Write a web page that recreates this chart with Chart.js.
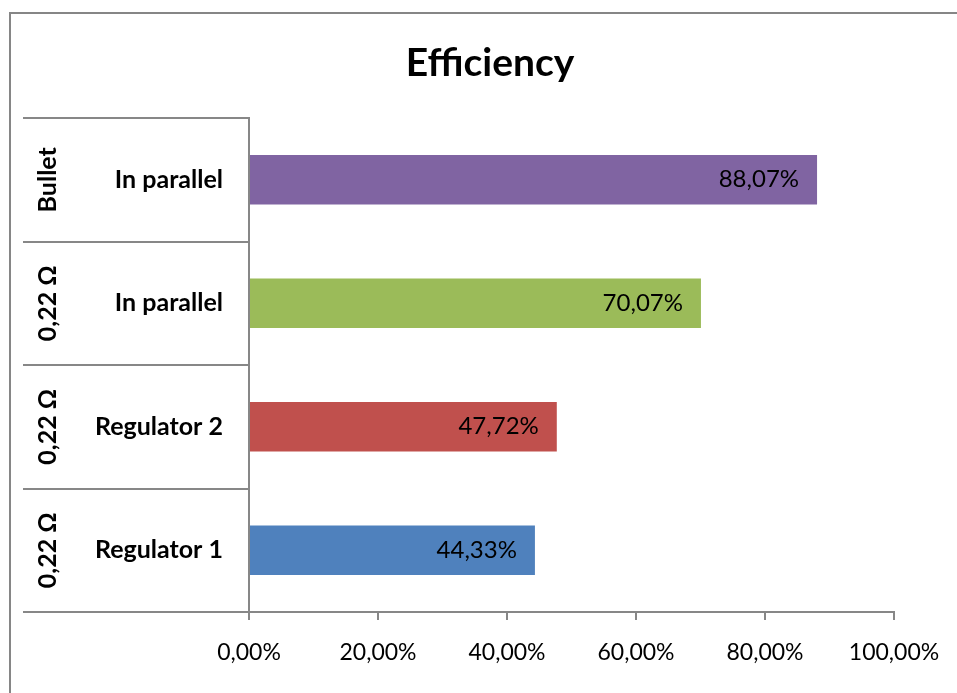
<!DOCTYPE html>
<html>
<head>
    <title>Efficiency</title>
    <meta charset="utf-8">
    <script src="https://cdn.jsdelivr.net/npm/chart.js"></script>
</head>
<style>
    html, body {
        margin: 0;
        padding: 0;
        background: #fff;
        overflow: hidden;
    }
    #wrap {
        position: relative;
        width: 957px;
        height: 693px;
    }
    #frame {
        position: absolute;
        left: 9px;
        top: 12px;
        width: 1100px;
        height: 900px;
        border-left: 2px solid #868686;
        border-top: 2px solid #868686;
        pointer-events: none;
    }
</style>
<body>
    <div id="wrap">
        <canvas id="effChart" width="957" height="693"></canvas>
        <div id="frame"></div>
    </div>
    <script>
        // top row first
        const groups = ['Bullet', '0,22 Ω', '0,22 Ω', '0,22 Ω'];
        const categories = ['In parallel', 'In parallel', 'Regulator 2', 'Regulator 1'];
        const efficiency = [88.07, 70.07, 47.72, 44.33];
        const barColors = ['#8064A2', '#9BBB59', '#C0504D', '#4F81BD'];
        const xTicks = [0, 20, 40, 60, 80, 100];

        const fontFamily = 'Lato, "Open Sans", sans-serif';
        const lineColor = '#878787';

        function pct(v) {
            return v.toFixed(2).replace('.', ',') + '%';
        }

        // two-level category labels on the left
        const groupLabels = {
            id: 'groupLabels',
            afterDraw(chart) {
                const ctx = chart.ctx;
                const y = chart.scales.y;
                ctx.save();
                ctx.fillStyle = '#000';
                ctx.textBaseline = 'middle';
                for (let i = 0; i < categories.length; i++) {
                    const yc = y.getPixelForValue(i);
                    ctx.font = 'bold 25px ' + fontFamily;
                    ctx.textAlign = 'right';
                    ctx.fillText(categories[i], 223, yc);

                    ctx.save();
                    ctx.translate(48, yc);
                    ctx.rotate(-Math.PI / 2);
                    ctx.textAlign = 'center';
                    ctx.fillText(groups[i], 0, 0);
                    ctx.restore();
                }
                ctx.restore();
            }
        };

        // value labels inside the bar end
        const valueLabels = {
            id: 'valueLabels',
            afterDatasetsDraw(chart) {
                const ctx = chart.ctx;
                const meta = chart.getDatasetMeta(0);
                ctx.save();
                ctx.font = '24px ' + fontFamily;
                ctx.fillStyle = '#000';
                ctx.textAlign = 'right';
                ctx.textBaseline = 'middle';
                meta.data.forEach(function (bar, i) {
                    ctx.fillText(pct(efficiency[i]), bar.x - 18, bar.y);
                });
                ctx.restore();
            }
        };

        const ctx = document.getElementById('effChart').getContext('2d');
        const chart = new Chart(ctx, {
            type: 'bar',
            data: {
                labels: categories.map((c, i) => [groups[i], c]),
                datasets: [{
                    label: 'Efficiency',
                    data: efficiency,
                    backgroundColor: barColors,
                    borderWidth: 0,
                    categoryPercentage: 1,
                    barPercentage: 0.4
                }]
            },
            options: {
                responsive: false,
                animation: false,
                indexAxis: 'y',
                layout: {
                    padding: { left: 23, right: 0, top: 0, bottom: 0 }
                },
                scales: {
                    x: {
                        min: 0,
                        max: 100,
                        afterBuildTicks(scale) {
                            scale.ticks = xTicks.map(v => ({ value: v }));
                        },
                        afterFit(scale) {
                            scale.height = 81;
                            scale.paddingRight = 63;
                        },
                        ticks: {
                            padding: 19,
                            color: '#000',
                            font: { family: fontFamily, size: 23 },
                            maxRotation: 0,
                            callback: function (value) {
                                return pct(value);
                            }
                        },
                        grid: {
                            drawOnChartArea: false,
                            drawTicks: true,
                            tickLength: 8,
                            color: lineColor,
                            lineWidth: 2
                        },
                        border: {
                            display: true,
                            color: lineColor,
                            width: 2
                        }
                    },
                    y: {
                        afterFit(scale) {
                            scale.width = 226;
                        },
                        ticks: {
                            display: false
                        },
                        grid: {
                            offset: true,
                            drawOnChartArea: false,
                            drawTicks: true,
                            tickLength: 226,
                            color: lineColor,
                            lineWidth: 2
                        },
                        border: {
                            display: true,
                            color: lineColor,
                            width: 2
                        }
                    }
                },
                plugins: {
                    legend: { display: false },
                    tooltip: { enabled: false },
                    title: {
                        display: true,
                        text: 'Efficiency',
                        color: '#000',
                        font: { family: fontFamily, size: 39, weight: 'bold', lineHeight: 1.2 },
                        padding: { top: 40, bottom: 31.2 }
                    }
                }
            },
            plugins: [groupLabels, valueLabels]
        });
    </script>
</body>
</html>
